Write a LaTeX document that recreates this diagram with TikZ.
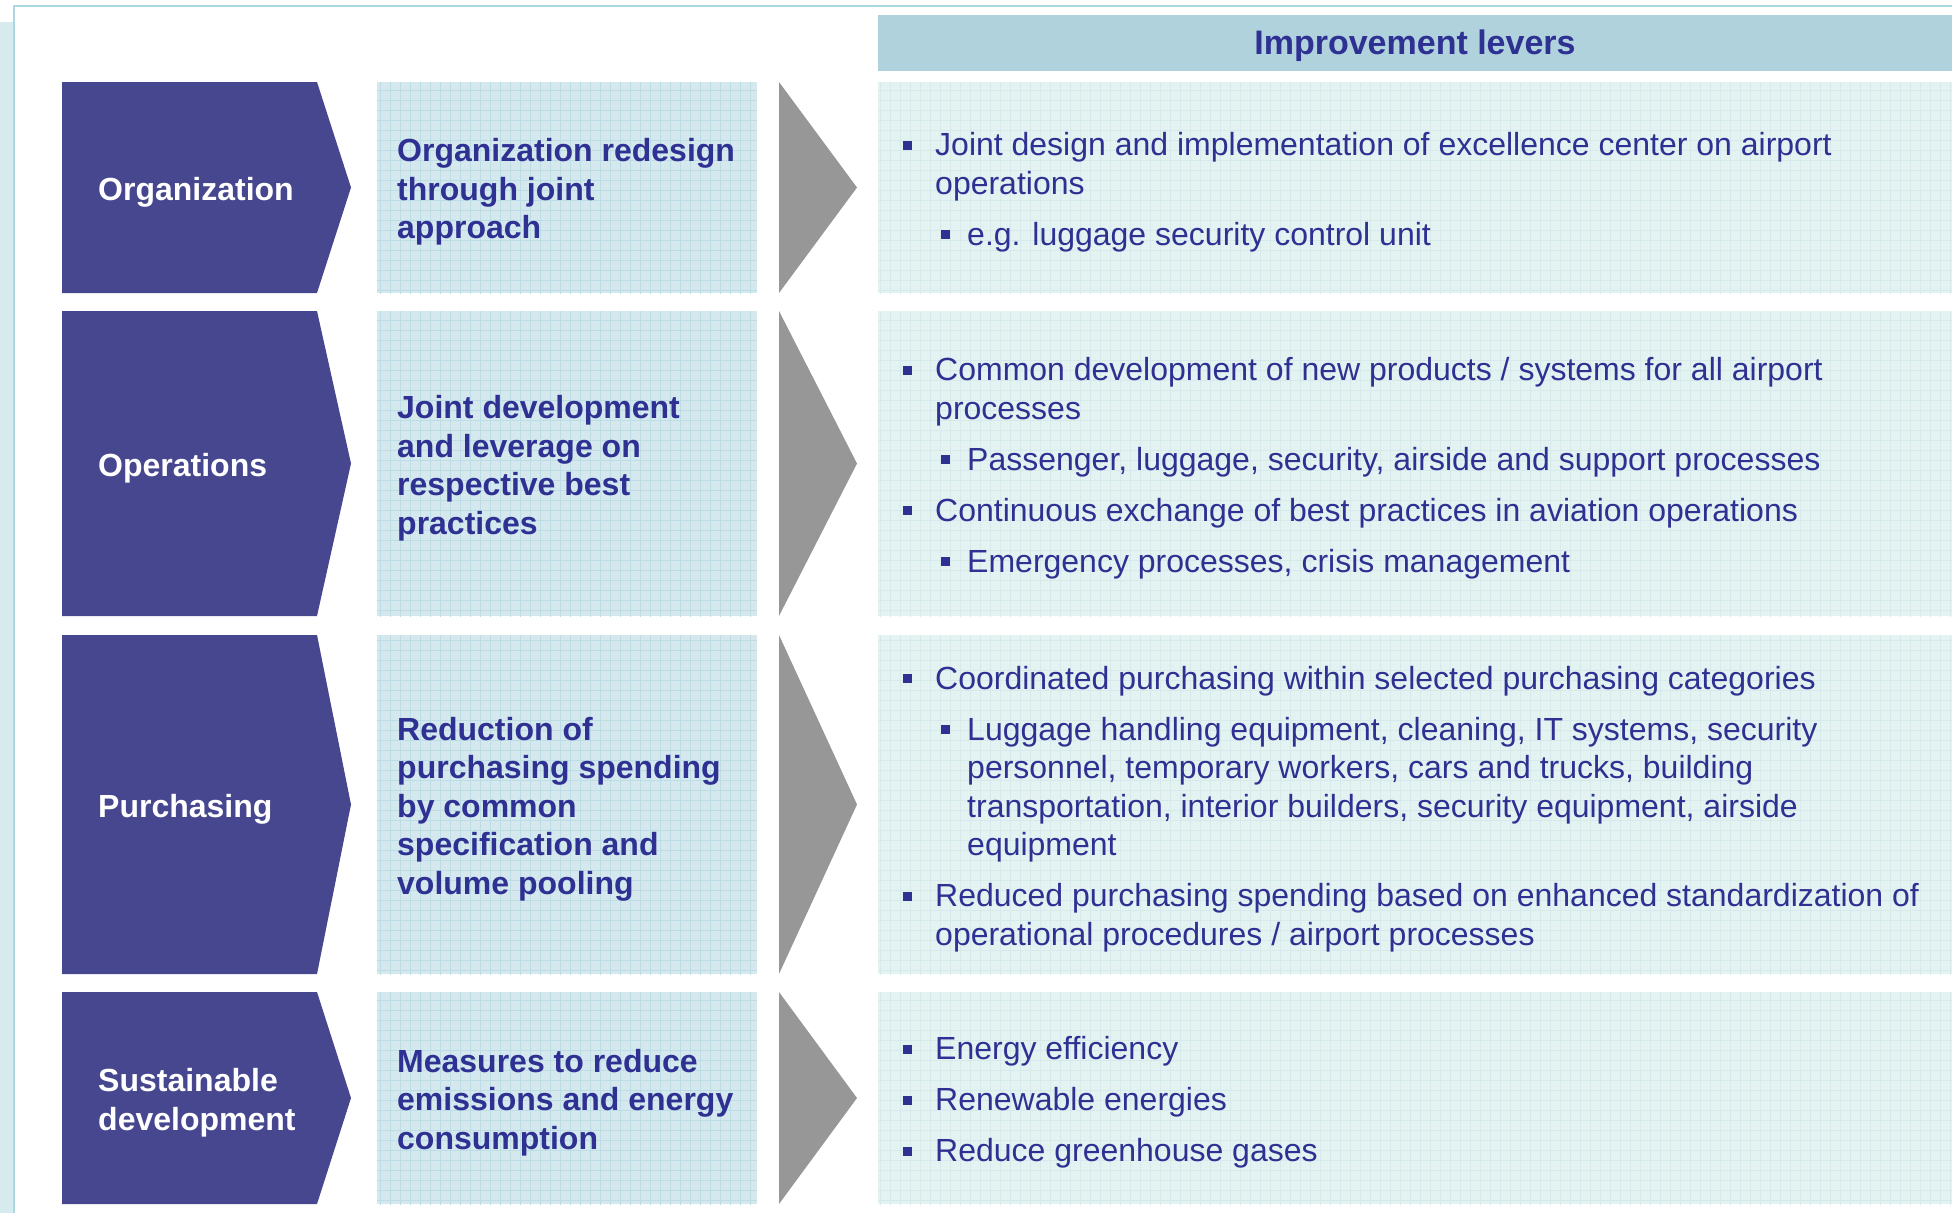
\documentclass[tikz,border=0pt]{standalone}
\usepackage{fontspec}
\setmainfont{Liberation Sans}
\definecolor{chev}{HTML}{46478F}
\definecolor{txt}{HTML}{2E3092}
\definecolor{tri}{HTML}{979797}
\definecolor{hdr}{HTML}{AFD2DD}
\definecolor{midfill}{HTML}{D4E8EE}
\definecolor{midgrid}{HTML}{BCDDE6}
\definecolor{rfill}{HTML}{E5F2F2}
\definecolor{rgrid}{HTML}{D5EAEB}
\definecolor{strip}{HTML}{D5EBEE}
\definecolor{frame}{HTML}{ADD7E0}
\newcommand\bsq{\textcolor{txt}{\raisebox{6pt}{\rule{9pt}{9pt}}}}
\newcommand\lvone[1]{\par\hangindent=30pt\hangafter=1\noindent\hspace*{-2pt}\makebox[32pt][l]{\bsq}#1\par}
\newcommand\lvtwo[1]{\par\hangindent=62pt\hangafter=1\noindent\hspace*{36pt}\makebox[26pt][l]{\bsq}#1\par}
\newcommand\rbox[1]{\parbox{1040pt}{\setlength{\parskip}{12.5pt}\raggedright #1}}
\begin{document}
\begin{tikzpicture}[x=1pt,y=-1pt,
  chevlabel/.style={font=\fontsize{32}{38.5}\selectfont\bfseries,text=white,anchor=west,align=left,inner sep=0pt},
  midlabel/.style={font=\fontsize{32}{38.5}\selectfont\bfseries,text=txt,anchor=west,align=left,inner sep=0pt},
  rlabel/.style={font=\fontsize{32}{38.5}\selectfont,text=txt,anchor=west,inner sep=0pt},
  hdrlabel/.style={font=\fontsize{34}{40}\selectfont\bfseries,text=txt,inner sep=0pt}]
\useasboundingbox (0,0) rectangle (1952,1213);
% frame
\fill[strip] (0,22) rectangle (14,1213);
\draw[frame,line width=2pt] (14,1213) -- (14,6) -- (1952,6);
% header
\fill[hdr] (878,15) rectangle (1952,71);
\node[hdrlabel] (hdr) at (1415,45.5) {Improvement levers};
% rows
\foreach \t/\b/\n in {82/293/1,311/616/2,635/974/3,992/1204/4}{
  \pgfmathsetmacro\c{(\t+\b)/2}
  \fill[chev] (62,\t) -- (317,\t) -- (351,\c) -- (317,\b) -- (62,\b) -- cycle;
  \begin{scope}
    \clip (377,\t) rectangle (757,\b);
    \fill[midfill] (377,\t) rectangle (757,\b);
    \draw[midgrid,line width=0.9pt,step=10pt] (370,\b+10) grid (760,\t-10);
  \end{scope}
  \fill[tri] (779,\t) -- (857,\c) -- (779,\b) -- cycle;
  \begin{scope}
    \clip (878,\t) rectangle (1952,\b);
    \fill[rfill] (878,\t) rectangle (1952,\b);
    \draw[rgrid,line width=0.9pt,step=10pt] (870,\b+10) grid (1960,\t-10);
  \end{scope}
  \coordinate (c\n) at (0,\c);
}
% column 1
\node[chevlabel] (org) at ([xshift=98pt,yshift=-4.5pt]c1) {Organization};
\node[chevlabel] (ops) at ([xshift=98pt,yshift=-4.5pt]c2) {Operations};
\node[chevlabel] (pur) at ([xshift=98pt,yshift=-4.5pt]c3) {Purchasing};
\node[chevlabel] (sus) at ([xshift=98pt,yshift=-4.5pt]c4) {Sustainable\\development};
% column 2
\node[midlabel] (m1) at ([xshift=397pt,yshift=-4.5pt]c1) {Organization redesign\\through joint\\approach};
\node[midlabel] (m2) at ([xshift=397pt,yshift=-4.5pt]c2) {Joint development\\and leverage on\\respective best\\practices};
\node[midlabel] (m3) at ([xshift=397pt,yshift=-4.5pt]c3) {Reduction of\\purchasing spending\\by common\\specification and\\volume pooling};
\node[midlabel] (m4) at ([xshift=397pt,yshift=-4.5pt]c4) {Measures to reduce\\emissions and energy\\consumption};
% column 3
\node[rlabel] (r1) at ([xshift=905pt,yshift=-4.5pt]c1) {\rbox{%
\lvone{Joint design and implementation of excellence center on airport\newline operations}
\lvtwo{e.g. luggage security control unit}}};
\node[rlabel] (r2) at ([xshift=905pt,yshift=-4.5pt]c2) {\rbox{%
\lvone{Common development of new products / systems for all airport\newline processes}
\lvtwo{Passenger, luggage, security, airside and support processes}
\lvone{Continuous exchange of best practices in aviation operations}
\lvtwo{Emergency processes, crisis management}}};
\node[rlabel] (r3) at ([xshift=905pt,yshift=-4.5pt]c3) {\rbox{%
\lvone{Coordinated purchasing within selected purchasing categories}
\lvtwo{Luggage handling equipment, cleaning, IT systems, security\newline personnel, temporary workers, cars and trucks, building\newline transportation, interior builders, security equipment, airside\newline equipment}
\lvone{Reduced purchasing spending based on enhanced standardization of\newline operational procedures / airport processes}}};
\node[rlabel] (r4) at ([xshift=905pt,yshift=-4.5pt]c4) {\rbox{%
\lvone{Energy efficiency}
\lvone{Renewable energies}
\lvone{Reduce greenhouse gases}}};
\end{tikzpicture}
\end{document}
